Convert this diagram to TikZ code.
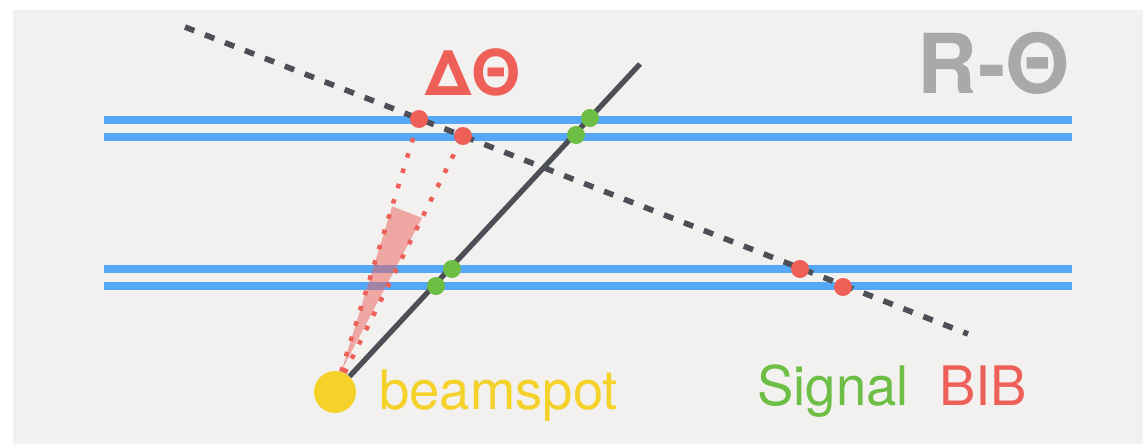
\documentclass[tikz,border=0pt]{standalone}
\usepackage{fontspec}
\setmainfont{TeX Gyre Heros}
\usetikzlibrary{calc}
\definecolor{Paper}{HTML}{F2F1F0}
\definecolor{Sky}{HTML}{55A8F8}
\definecolor{Ink}{HTML}{4C5056}
\definecolor{Coral}{HTML}{EE5F58}
\definecolor{Leaf}{HTML}{6CBE45}
\definecolor{Sun}{HTML}{F5D22A}
\definecolor{Ash}{HTML}{A7AAA8}
\tikzset{
  layer/.style={draw=Sky,line width=4.5pt},
  track/.style={draw=Ink,line width=3pt},
  bibtrack/.style={draw=Ink,line width=3.2pt,dash pattern=on 5.7pt off 6.5pt},
  hit/.style={circle,inner sep=0pt,minimum size=0.36cm},
  sighit/.style={hit,fill=Leaf},
  bibhit/.style={hit,fill=Coral},
  ray/.style={draw=Coral,line width=2.6pt,dash pattern=on 2.6pt off 6.5pt},
  cone/.style={fill=Coral,fill opacity=0.5},
  tag/.style={inner sep=0pt,anchor=base west,font=\fontsize{31}{36}\selectfont}
}

\begin{document}
\begin{tikzpicture}[x=0.02cm,y=-0.02cm]
  \useasboundingbox (0,0) rectangle (1143,444);
  \fill[Paper] (13,10) rectangle (1143,444);
  % detector layers
  \foreach \y in {120,137,269,286}
    \draw[layer] (104,\y) -- (1072,\y);

  \node[circle,fill=Sun,minimum size=0.84cm,inner sep=0pt] (beamspot) at (335,392) {};
  \coordinate (trackend) at (640,64);
  \coordinate (bibstart) at (185,27);
  \coordinate (bibend) at (968,334);

  \draw[bibtrack] (bibstart) -- (bibend);
  \draw[track] (beamspot) -- (trackend);

  % hits
  \node[bibhit] (bib1) at (419,119) {};
  \node[bibhit] (bib2) at (463,136) {};
  \node[bibhit] (bib3) at (800,269) {};
  \node[bibhit] (bib4) at (843,287) {};
  \node[sighit] (sig1) at (436,286) {};
  \node[sighit] (sig2) at (452,269) {};
  \node[sighit] (sig3) at (576,135) {};
  \node[sighit] (sig4) at (590,118) {};

  % opening angle
  \fill[cone] ($(beamspot.center)!0.08!(bib1)$) -- ($(beamspot.center)!0.68!(bib1)$)
    -- ($(beamspot.center)!0.68!(bib2)$) -- cycle;
  \draw[ray] (beamspot) -- (bib1);
  \draw[ray] (beamspot) -- (bib2);

  \node[tag,text=Sun] (beamlabel) at (379,409) {beamspot};
  \node[tag,text=Leaf] (signallabel) at (757,405) {Signal};
  \node[tag,text=Coral] (biblabel) at (939,405) {BIB};
  \node[tag,text=Coral,font=\fontsize{36}{40}\selectfont\bfseries] (dtheta) at (425,95) {ΔΘ};
  \node[tag,text=Ash,font=\fontsize{47}{50}\selectfont\bfseries] (view) at (917,93) {R-Θ};
\end{tikzpicture}
\end{document}
